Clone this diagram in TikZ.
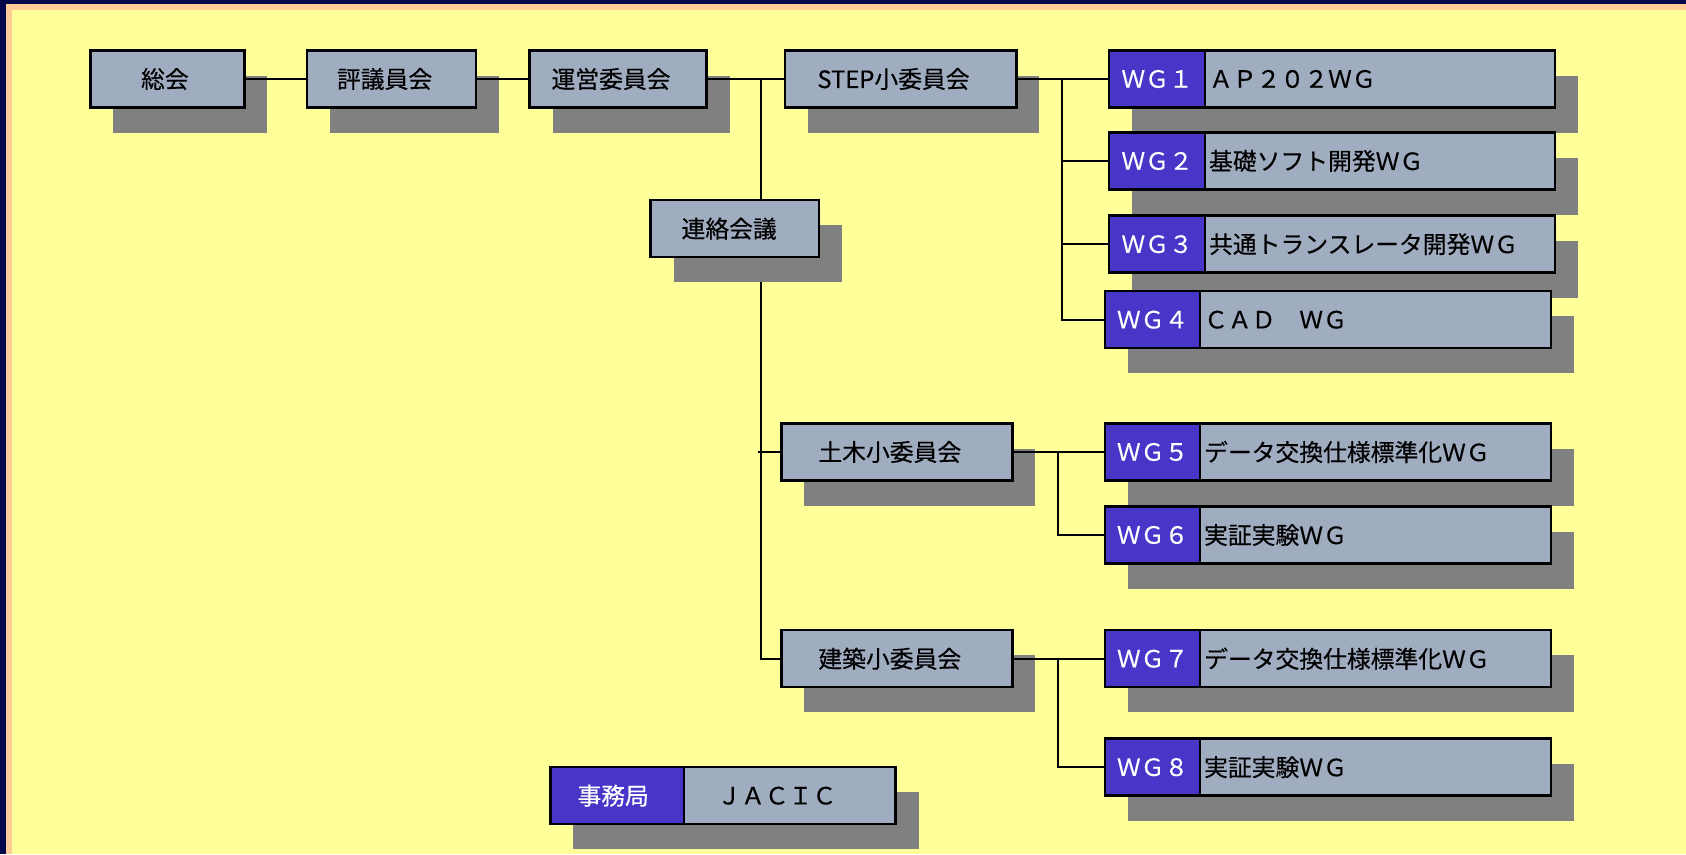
\documentclass[tikz,border=0pt]{standalone}
\usepackage{fontspec}
\newfontfamily\jp[FakeBold=0.35]{Noto Sans CJK JP}
\definecolor{bgyellow}{HTML}{FFFF99}
\definecolor{peach}{HTML}{FFCC99}
\definecolor{navy}{HTML}{06064A}
\definecolor{boxgray}{HTML}{A0ACC0}
\definecolor{wgblue}{HTML}{4836C8}
\definecolor{shadowc}{HTML}{808080}
\pgfdeclarelayer{trunk}
\pgfdeclarelayer{shadow}
\pgfdeclarelayer{lines}
\pgfsetlayers{trunk,shadow,lines,main}
\tikzset{
  box/.style={draw=black, line width=2.5pt, minimum height=57pt, inner sep=0pt, outer sep=0pt,
    font=\jp\fontsize{23.8}{28}\selectfont},
  graybox/.style={box, fill=boxgray, text=black, execute at begin node={\hspace*{-14pt}}},
  lshift/.style={execute at begin node={\hspace*{-#1}}},
  bluebox/.style={box, fill=wgblue, text=white},
  wgtext/.style={box, fill=boxgray, text=black, inner xsep=4pt, align=left, anchor=west},
  conn/.style={draw=black, line width=2pt},
  shade/.style={fill=shadowc},
}
\newcommand{\boxshadow}[2]{\fill[shade] ([shift={(23,25)}]#1.north west) rectangle ([shift={(23,25)}]#2.south east);}
\begin{document}
\begin{tikzpicture}[x=1pt,y=-1pt]
\useasboundingbox (0,0) rectangle (1686,854);
% nodes
\node[box, fill=boxgray, text=black, lshift=5pt, minimum width=154pt] (sokai) at (167.4,79) {総会};
\node[graybox, minimum width=169pt] (hyogi) at (391.6,79) {評議員会};
\node[graybox, minimum width=177pt] (unei) at (618,79) {運営委員会};
\node[graybox, minimum width=231.5pt] (step) at (900.5,79) {STEP小委員会};
\node[box, fill=boxgray, text=black, lshift=11pt, minimum width=168.4pt] (renraku) at (734.7,228.7) {連絡会議};
\node[graybox, minimum width=231pt] (doboku) at (896.8,452) {土木小委員会};
\node[graybox, minimum width=231pt] (kenchiku) at (896.8,658.7) {建築小委員会};

\node[bluebox, minimum width=96pt] (wg1) at (1157.1,79) {ＷＧ１};
\node[wgtext, text width=342pt] (wg1t) at (wg1.east) {ＡＰ２０２ＷＧ};
\node[bluebox, minimum width=96pt] (wg2) at (1157.1,161) {ＷＧ２};
\node[wgtext, text width=342pt] (wg2t) at (wg2.east) {基礎ソフト開発ＷＧ};
\node[bluebox, minimum width=96pt] (wg3) at (1157.1,244.2) {ＷＧ３};
\node[wgtext, text width=342pt] (wg3t) at (wg3.east) {共通トランスレータ開発ＷＧ};
\node[bluebox, minimum width=95pt] (wg4) at (1152.6,319.7) {ＷＧ４};
\node[wgtext, text width=343pt] (wg4t) at (wg4.east) {ＣＡＤ　ＷＧ};
\node[bluebox, minimum width=95pt] (wg5) at (1152.6,452) {ＷＧ５};
\node[wgtext, text width=343pt] (wg5t) at (wg5.east) {データ交換仕様標準化ＷＧ};
\node[bluebox, minimum width=95pt] (wg6) at (1152.6,535) {ＷＧ６};
\node[wgtext, text width=343pt] (wg6t) at (wg6.east) {実証実験ＷＧ};
\node[bluebox, minimum width=95pt] (wg7) at (1152.6,658.7) {ＷＧ７};
\node[wgtext, text width=343pt] (wg7t) at (wg7.east) {データ交換仕様標準化ＷＧ};
\node[bluebox, minimum width=95pt] (wg8) at (1152.6,767.2) {ＷＧ８};
\node[wgtext, text width=343pt] (wg8t) at (wg8.east) {実証実験ＷＧ};

\node[bluebox, lshift=8pt, minimum width=133.5pt] (jim) at (617.2,795.7) {事務局};
\node[graybox, lshift=12pt, minimum width=211.7pt, anchor=west] (jacic) at (jim.east) {ＪＡＣＩＣ};

% junction coordinates
\coordinate (j1) at (760.7,79);
\coordinate (j2) at (1062,79);
\coordinate (j3) at (1058,452);
\coordinate (j4) at (1058,658.7);
\coordinate (t1) at (757.5,452);

% background frame and trunk
\begin{pgfonlayer}{trunk}
  \fill[bgyellow] (0,0) rectangle (1686,854);
  \fill[peach] (6,4) rectangle (1686,10);
  \fill[peach] (6,4) rectangle (12,854);
  \fill[navy] (0,0) rectangle (1686,4);
  \fill[navy] (0,0) rectangle (6,854);
  \draw[conn] (j1) |- (kenchiku.west);
\end{pgfonlayer}

% shadows
\begin{pgfonlayer}{shadow}
  \boxshadow{sokai}{sokai}
  \boxshadow{hyogi}{hyogi}
  \boxshadow{unei}{unei}
  \boxshadow{step}{step}
  \boxshadow{renraku}{renraku}
  \boxshadow{doboku}{doboku}
  \boxshadow{kenchiku}{kenchiku}
  \boxshadow{wg1}{wg1t}
  \boxshadow{wg2}{wg2t}
  \boxshadow{wg3}{wg3t}
  \boxshadow{wg4}{wg4t}
  \boxshadow{wg5}{wg5t}
  \boxshadow{wg6}{wg6t}
  \boxshadow{wg7}{wg7t}
  \boxshadow{wg8}{wg8t}
  \boxshadow{jim}{jacic}
\end{pgfonlayer}

% connectors
\begin{pgfonlayer}{lines}
  \draw[conn] (sokai.east) -- (hyogi.west);
  \draw[conn] (hyogi.east) -- (unei.west);
  \draw[conn] (unei.east) -- (step.west);
  \draw[conn] (step.east) -- (wg1.west);
  \draw[conn] (j2) |- (wg4.west);
  \draw[conn] (j2 |- wg2.west) -- (wg2.west);
  \draw[conn] (j2 |- wg3.west) -- (wg3.west);
  \draw[conn] (t1) -- (doboku.west);
  \draw[conn] (doboku.east) -- (wg5.west);
  \draw[conn] (j3) |- (wg6.west);
  \draw[conn] (kenchiku.east) -- (wg7.west);
  \draw[conn] (j4) |- (wg8.west);
\end{pgfonlayer}
\end{tikzpicture}
\end{document}
